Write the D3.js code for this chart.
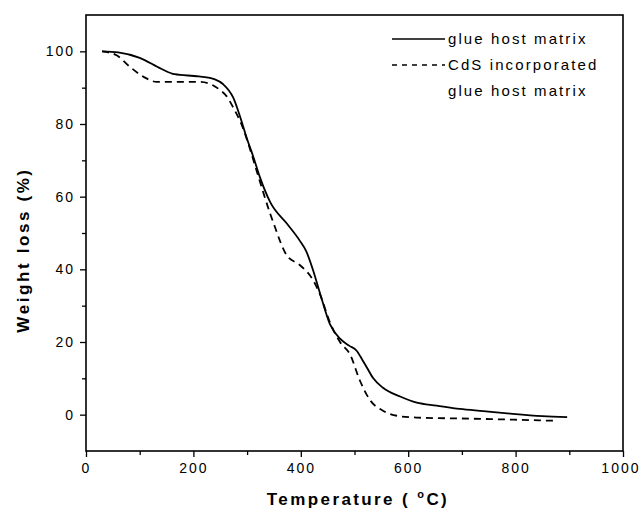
<!DOCTYPE html>
<html>
<head>
<meta charset="utf-8">
<script src="https://cdn.jsdelivr.net/npm/d3@7"></script>
<style>
  body { margin: 0; background: #fff; }
  text { font-family: "Liberation Sans", Arial, sans-serif; fill: #000; }
</style>
</head>
<body>
<script>
// glue host matrix (solid)
var glueTemp = [30, 60, 100, 140, 165, 210, 240, 255, 274, 287, 299, 312, 324, 343, 374, 398, 410, 423, 436, 454, 473, 490, 504, 515, 523, 535, 553, 585, 616, 653, 696, 740, 790, 850, 896];
var glueLoss = [100, 99.7, 98.2, 95.2, 93.7, 93.1, 92.3, 91, 87.3, 82, 76.3, 70.8, 65.3, 58.5, 52.6, 47.9, 45, 39.7, 33.3, 25, 20.9, 19, 17.6, 15, 13, 10, 7.4, 5, 3.3, 2.5, 1.6, 1, 0.3, -0.4, -0.7];

// CdS incorporated glue host matrix (dashed)
var cdsTemp = [30, 57, 82, 107, 132, 212, 237, 250, 262, 274, 292, 305, 318, 330, 343, 352, 361, 374, 398, 423, 436, 454, 473, 492, 510, 529, 553, 579, 616, 715, 803, 877];
var cdsLoss = [100, 98.9, 95.7, 93, 91.6, 91.6, 90.6, 89.3, 87.6, 84.6, 79, 73.3, 67, 61.2, 55.3, 51.6, 47.9, 43.8, 41.2, 37, 33, 25.5, 20, 16.5, 9.4, 4, 1.1, -0.3, -0.8, -1.1, -1.4, -1.7];

var xTicks = [0, 200, 400, 600, 800, 1000];
var yTicks = [0, 20, 40, 60, 80, 100];
var legendLabels = ["glue host matrix", "CdS incorporated", "glue host matrix"];

var width = 641, height = 512;
var mLeft = 86, mTop = 15, mRight = 623, mBottom = 451;

var svg = d3.select("body").append("svg")
    .attr("width", width)
    .attr("height", height);

var x = d3.scaleLinear().domain([0, 1000]).range([mLeft, mRight]);
var y = d3.scaleLinear().domain([-10, 110]).range([mBottom, mTop]);

// ram
svg.append("rect")
    .attr("x", mLeft).attr("y", mTop)
    .attr("width", mRight - mLeft).attr("height", mBottom - mTop)
    .attr("fill", "none").attr("stroke", "#000").attr("stroke-width", 1.6);

// små ticks
var xMinor = d3.range(100, 1000, 200);
var yMinor = d3.range(-10, 110, 20).filter(function(d) { return d > -10; });

svg.append("g").attr("transform", "translate(0," + mBottom + ")")
    .call(d3.axisBottom(x).tickValues(xMinor).tickSize(4).tickFormat(""))
    .call(function(g) { g.select(".domain").remove(); g.selectAll("line").attr("stroke-width", 1.3); });

svg.append("g").attr("transform", "translate(" + mLeft + ",0)")
    .call(d3.axisLeft(y).tickValues(yMinor).tickSize(4).tickFormat(""))
    .call(function(g) { g.select(".domain").remove(); g.selectAll("line").attr("stroke-width", 1.3); });

// stora ticks
var xAxis = svg.append("g").attr("transform", "translate(0," + mBottom + ")")
    .call(d3.axisBottom(x).tickValues(xTicks).tickSize(6).tickPadding(6).tickFormat(d3.format("d")));
var yAxis = svg.append("g").attr("transform", "translate(" + mLeft + ",0)")
    .call(d3.axisLeft(y).tickValues(yTicks).tickSize(6).tickPadding(5).tickFormat(d3.format("d")));

[xAxis, yAxis].forEach(function(g) {
    g.select(".domain").remove();
    g.selectAll("line").attr("stroke-width", 1.3);
    g.selectAll("text")
        .style("font-family", "'Liberation Sans', Arial, sans-serif")
        .style("font-size", "14px")
        .style("letter-spacing", "2px")
        .attr("fill", "#000");
});

// 1000 får inte klippas vid kanten
xAxis.selectAll(".tick text").filter(function(d) { return d === 1000; })
    .attr("text-anchor", "end").attr("x", 641 - mRight - 1);

var line = d3.line()
    .x(function(d) { return x(d[0]); })
    .y(function(d) { return y(d[1]); })
    .curve(d3.curveMonotoneX);

svg.append("path")
    .datum(d3.zip(cdsTemp, cdsLoss))
    .attr("d", line)
    .attr("fill", "none").attr("stroke", "#000")
    .attr("stroke-width", 1.8)
    .attr("stroke-dasharray", "7,5");

svg.append("path")
    .datum(d3.zip(glueTemp, glueLoss))
    .attr("d", line)
    .attr("fill", "none").attr("stroke", "#000")
    .attr("stroke-width", 1.8);

// legend
var leg = svg.append("g");
leg.append("line").attr("x1", 392).attr("x2", 445).attr("y1", 39).attr("y2", 39)
    .attr("stroke", "#000").attr("stroke-width", 1.5);
leg.append("line").attr("x1", 392).attr("x2", 445).attr("y1", 65).attr("y2", 65)
    .attr("stroke", "#000").attr("stroke-width", 1.5).attr("stroke-dasharray", "5,5");
leg.selectAll("text.lab").data(legendLabels).enter().append("text")
    .attr("class", "lab")
    .attr("x", 448)
    .attr("y", function(d, i) { return 44 + i * 26; })
    .style("font-size", "15px")
    .style("letter-spacing", "2.1px")
    .text(function(d) { return d; });

// axeltitlar
svg.append("text")
    .attr("transform", "translate(29,250) rotate(-90)")
    .attr("text-anchor", "middle")
    .style("font-size", "17px").style("font-weight", "bold")
    .style("letter-spacing", "2.6px")
    .text("Weight loss (%)");

var xt = svg.append("text")
    .attr("x", 358).attr("y", 505)
    .attr("text-anchor", "middle")
    .style("font-size", "17px").style("font-weight", "bold")
    .style("letter-spacing", "2.4px");
xt.append("tspan").text("Temperature ( ");
xt.append("tspan").attr("dy", -7).style("font-size", "11px").text("o");
xt.append("tspan").attr("dy", 7).text("C)");
</script>
</body>
</html>
